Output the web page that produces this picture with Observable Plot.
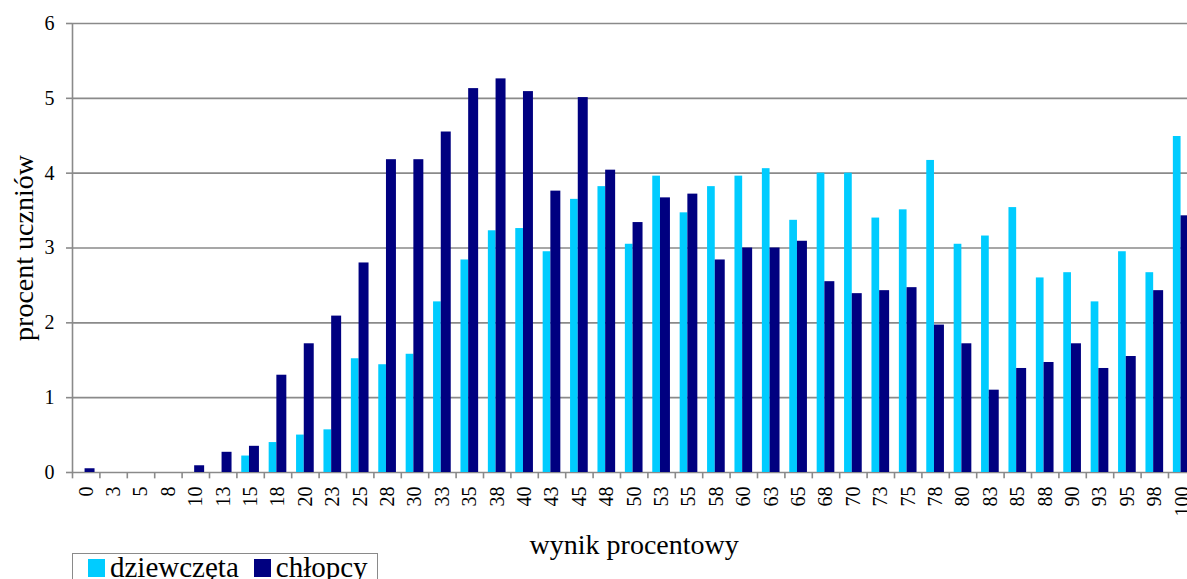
<!DOCTYPE html>
<html>
<head>
<meta charset="utf-8">
<script src="https://cdn.jsdelivr.net/npm/d3@7"></script>
<script src="https://cdn.jsdelivr.net/npm/@observablehq/plot@0.6"></script>
<style>
  html, body { margin: 0; padding: 0; background: #fff; overflow: hidden; }
  #chart { width: 1200px; height: 553px; }
  #chart svg { display: block; }
  .legend {
    margin-left: 72px; margin-top: 0px;
    width: 306px; height: 30px; box-sizing: border-box;
    border: 1px solid #8a8a8a; border-bottom: none;
    font-family: "Liberation Serif", "Times New Roman", serif; font-size: 29px;
    display: flex; align-items: flex-start; line-height: 26px;
  }
  .sw { display: inline-block; width: 17px; height: 18px; margin-top: 5px; }
</style>
</head>
<body>
<div id="chart"></div>
<div class="legend">
  <span class="sw" style="background:#00CCFF;margin-left:15px;"></span><span style="margin-left:5px;">dziewczęta</span>
  <span class="sw" style="background:#000080;margin-left:15px;"></span><span style="margin-left:5px;">chłopcy</span>
</div>
<script>
const categories = ["0","3","5","8","10","13","15","18","20","23","25","28","30","33","35","38","40","43","45","48","50","53","55","58","60","63","65","68","70","73","75","78","80","83","85","88","90","93","95","98","100"];
const dziewczeta = [0,0,0,0,0,0,0.22,0.40,0.50,0.57,1.52,1.44,1.58,2.28,2.84,3.23,3.26,2.95,3.65,3.82,3.05,3.96,3.47,3.82,3.96,4.06,3.37,4.00,4.00,3.40,3.51,4.17,3.05,3.16,3.54,2.60,2.67,2.28,2.95,2.67,4.49];
const chlopcy = [0.05,0,0,0,0.09,0.27,0.35,1.30,1.72,2.09,2.80,4.18,4.18,4.55,5.13,5.26,5.09,3.76,5.01,4.04,3.34,3.67,3.72,2.84,3.00,3.00,3.09,2.55,2.39,2.43,2.47,1.97,1.72,1.10,1.39,1.47,1.72,1.39,1.55,2.43,3.43];
const yTicks = [0,1,2,3,4,5,6];

const data = categories.map((c, i) => ({cat: c, girls: dziewczeta[i], boys: chlopcy[i]}));

const W = 1200, ML = 72, MR = 4.6, H = 553, MT = 23, MB = 81;
const step = (W - ML - MR) / categories.length;
const padInner = 0.355;
const bw = step * (1 - padInner);
const girlsW = 7.7;
const grid = "#8a8a8a";

const chart = Plot.plot({
  width: W, height: H,
  marginLeft: ML, marginRight: MR, marginTop: MT, marginBottom: MB,
  style: {fontFamily: "'Liberation Serif', 'Times New Roman', serif", color: "#000", background: "#fff", overflow: "visible"},
  x: {domain: categories, type: "band", paddingInner: padInner, paddingOuter: padInner / 2, round: false, axis: null},
  y: {domain: [0, 6], axis: null},
  marks: [
    Plot.ruleY(yTicks, {y: d => d, stroke: grid, strokeWidth: 1.6}),
    Plot.ruleX([categories[0]], {x: d => d, dx: -step / 2, stroke: grid, strokeWidth: 1.6}),
    Plot.ruleX(categories, {x: d => d, dx: -step / 2, y1: 0, y2: -0.085, stroke: grid, strokeWidth: 1.6}),
    Plot.barY(data, {x: "cat", y: "girls", fill: "#00CCFF", insetRight: bw - girlsW}),
    Plot.barY(data, {x: "cat", y: "boys", fill: "#000080", insetLeft: girlsW}),
    Plot.axisY({ticks: yTicks, tickSize: 6, tickPadding: 12, fontSize: 20, stroke: grid, strokeWidth: 1.6, fill: "#000", label: null, tickFormat: d => String(d)}),
    Plot.axisX({tickRotate: -90, tickSize: 0, tickPadding: 14, fontSize: 20, label: null, fill: "#000"}),
    Plot.text(["wynik procentowy"], {frameAnchor: "bottom", lineAnchor: "middle", textAnchor: "middle", dy: 73, fontSize: 28, fill: "#000"}),
    Plot.text(["procent uczniów"], {frameAnchor: "left", lineAnchor: "middle", textAnchor: "middle", dx: -48, rotate: -90, fontSize: 28, fill: "#000"})
  ]
});
document.getElementById("chart").appendChild(chart);
</script>
</body>
</html>
